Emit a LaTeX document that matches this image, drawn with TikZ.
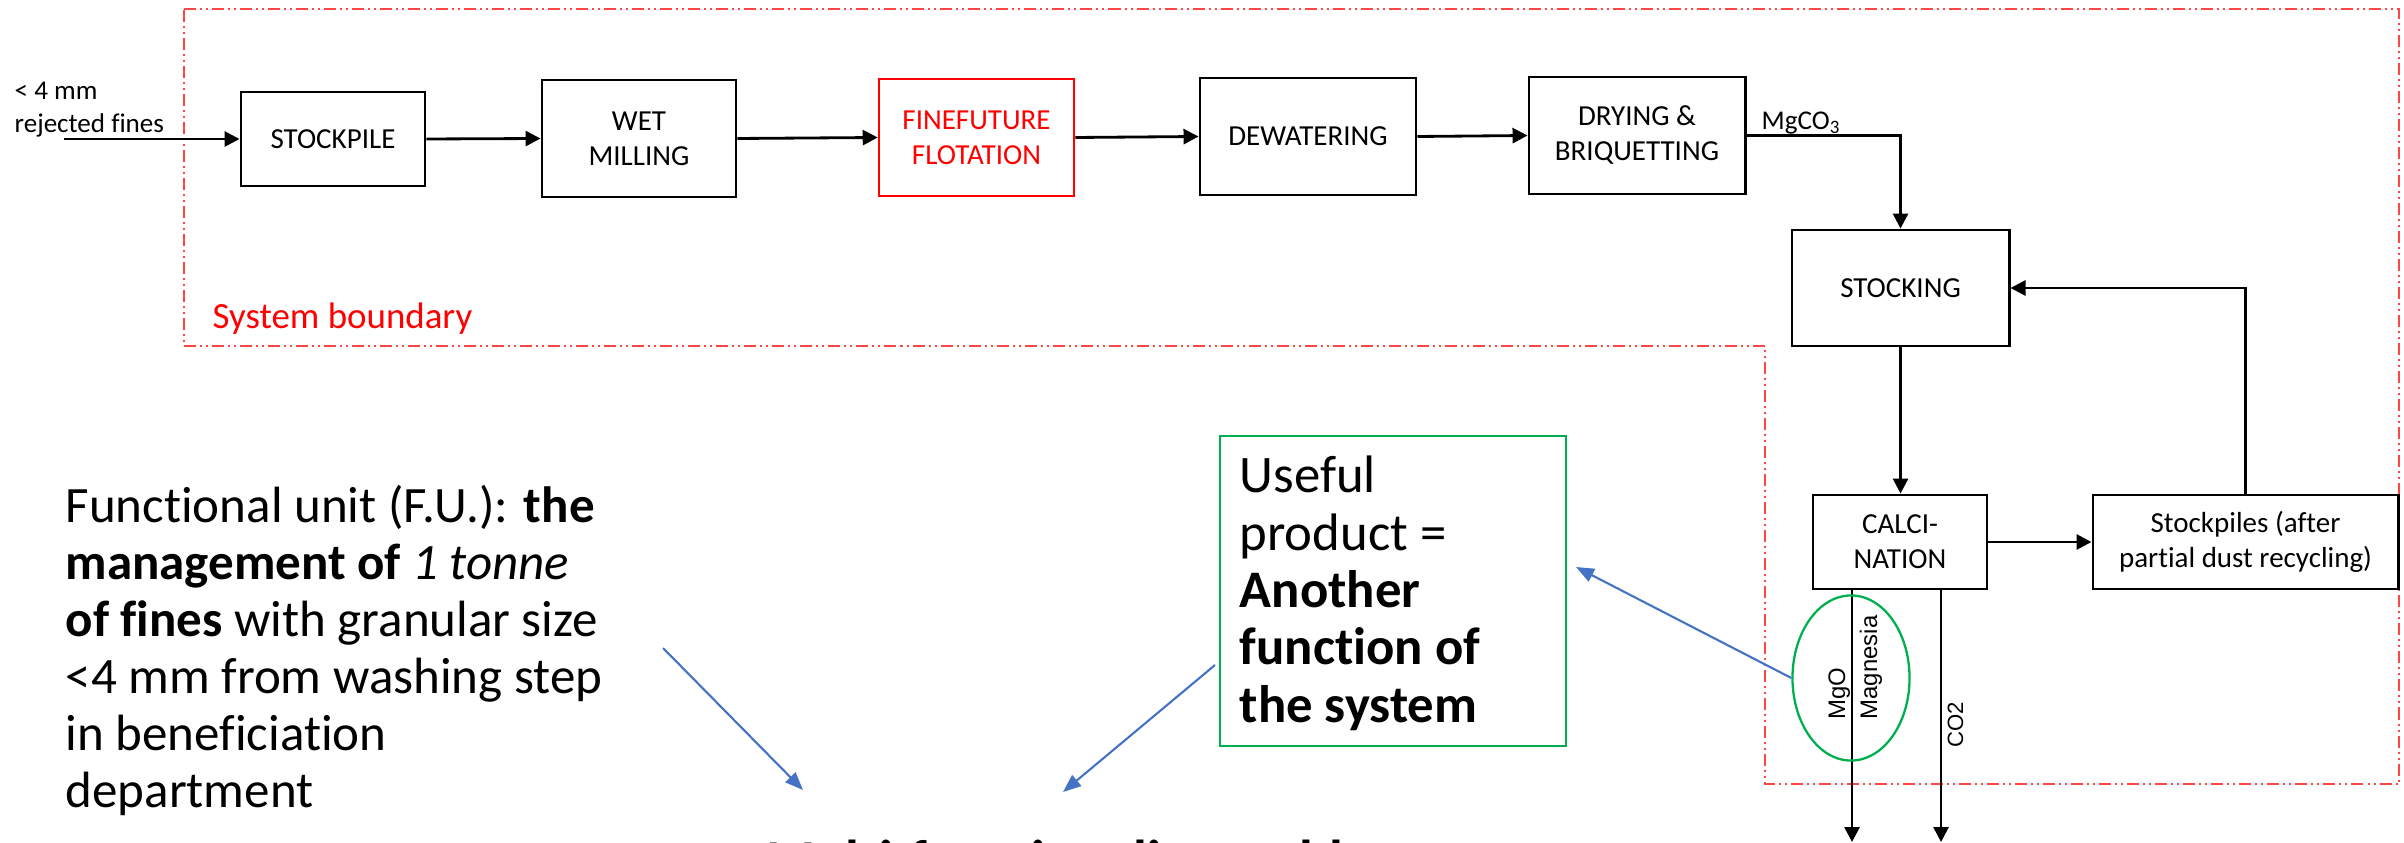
\documentclass[tikz,border=0pt]{standalone}
\usepackage{fontspec}
\setmainfont{Carlito}[Ligatures=NoCommon]
\newfontfamily\labelsans{Liberation Sans}
\usetikzlibrary{arrows.meta,shapes.geometric,calc}

\definecolor{bndred}{HTML}{FF4646}
\definecolor{prodgreen}{HTML}{00B050}
\definecolor{noteblue}{HTML}{4472C4}

\begin{document}
\begin{tikzpicture}[x=0.01cm,y=-0.01cm,
  proc/.style={draw=black, line width=0.8pt, align=center, inner sep=0pt,
    font=\fontsize{8.25pt}{9.96pt}\selectfont},
  flow/.style={line width=0.8pt, -{Triangle[length=0.15cm,width=0.15cm]}},
  note/.style={draw=noteblue, line width=0.6pt, -{Triangle[length=0.18cm,width=0.14cm]}},
  bnd/.style={draw=bndred, line width=0.55pt,
    dash pattern=on 0.12cm off 0.04cm on 0.02cm off 0.04cm on 0.02cm off 0.04cm},
  bigtext/.style={font=\fontsize{14.5pt}{16.2pt}\selectfont, inner sep=0pt},
  boxtext/.style={font=\fontsize{15pt}{16.3pt}\selectfont, inner sep=0pt},
  smalltext/.style={font=\fontsize{7.7pt}{9.4pt}\selectfont, inner sep=0pt},
  rottext/.style={rotate=90, inner sep=0pt, font=\labelsans\fontsize{6.8pt}{8pt}\selectfont}]

\useasboundingbox (0,0) rectangle (2404,843);
\clip (0,0) rectangle (2404,843);

% system boundary
\draw[bnd] (184,9) -- (2399,9) -- (2399,784) -- (1765,784) -- (1765,346) -- (184,346) -- cycle;
\node[anchor=base west, inner sep=0pt, text=red, font=\fontsize{10.5pt}{12pt}\selectfont]
  (sysb) at (212,328) {System boundary};

% process chain
\node[proc, minimum width=1.84cm, minimum height=0.94cm] (stockpile) at (333,139) {STOCKPILE};
\node[proc, minimum width=1.94cm, minimum height=1.17cm] (wet) at (639,138.5) {WET\\MILLING};
\node[proc, draw=red, line width=0.7pt, text=red, minimum width=1.95cm, minimum height=1.17cm]
  (flot) at (976.5,137.5) {FINEFUTURE\\FLOTATION};
\node[proc, minimum width=2.16cm, minimum height=1.17cm] (dewat) at (1308,136.5) {DEWATERING};
\node[proc, minimum width=2.16cm, minimum height=1.17cm] (dry) at (1637,135.5) {DRYING \&\\BRIQUETTING};
\node[proc, minimum width=2.17cm, minimum height=1.16cm] (stocking) at (1900.5,288) {STOCKING};
\node[proc, minimum width=1.74cm, minimum height=0.94cm] (calc) at (1900,542) {CALCI-\\NATION};
\node[proc, minimum width=3.05cm, minimum height=0.94cm] (after) at (2245.5,542)
  {Stockpiles (after\\partial dust recycling)};

% feed
\node[smalltext, anchor=north west, align=left] (feedlbl) at (14,76) {\strut< 4 mm\\rejected fines};
\coordinate (feed) at (64,139);
\draw[flow] (feed) -- (stockpile.west);

\draw[flow] (stockpile.east) -- (wet.west);
\draw[flow] (wet.east) -- (flot.west);
\draw[flow] (flot.east) -- (dewat.west);
\draw[flow] (dewat.east) -- (dry.west);
\draw[flow] (dry.east) -| (stocking.north);
\node[smalltext, anchor=base west] (mgco3) at (1761,130) {MgCO\textsubscript{3}};
\draw[flow] (stocking.south) -- (stocking.south |- calc.north);
\draw[flow] (calc.east) -- (after.west);
\draw[flow] (after.north) |- (stocking.east);

% outputs of calcination
\coordinate (mgoend) at (1852,842);
\coordinate (co2end) at (1941,842);
\draw[flow] (calc.south -| mgoend) -- (mgoend);
\draw[flow] (calc.south -| co2end) -- (co2end);
\node[draw=prodgreen, line width=0.65pt, ellipse, inner sep=0pt,
  minimum width=1.17cm, minimum height=1.65cm] (mgo) at (1851,678) {};
\node[rottext, anchor=base west] (mgotxt) at (1845,720) {MgO};
\node[rottext, anchor=base west] (magtxt) at (1877,720) {Magnesia};
\node[rottext, anchor=base west, font=\labelsans\fontsize{6.3pt}{8pt}\selectfont] (co2txt) at (1963,748) {CO2};

% useful product box
\node[draw=prodgreen, line width=0.6pt, minimum width=3.46cm, minimum height=3.10cm,
  inner sep=0pt] (prodbox) at (1393,591) {};
\node[boxtext, anchor=north west, align=left] (prodtxt) at (1239,452)
  {\strut Useful\\product =\\\textbf{Another}\\\textbf{function of}\\\textbf{the system}};

% functional unit
\node[bigtext, anchor=north west, align=left] (fu) at (65,482)
  {\strut Functional unit (F.U.): \textbf{the}\\
   \textbf{management of} \textit{1 tonne}\\
   \textbf{of fines} with granular size\\
   <4 mm from washing step\\
   in beneficiation\\
   department};

\node[anchor=base, inner sep=0pt, font=\bfseries\fontsize{16pt}{18pt}\selectfont] (mfp) at (1092,879)
  {Multi-functionality problem};

% annotation arrows
\coordinate (fustart) at (663,648);
\coordinate (futip) at (803,790);
\coordinate (pbstart) at (1215,665);
\coordinate (pbtip) at (1063,792);
\coordinate (mgotip) at (1576,567);
\draw[note] (fustart) -- (futip);
\draw[note] (pbstart) -- (pbtip);
\draw[note] (mgo.west) -- (mgotip);

\end{tikzpicture}
\end{document}
